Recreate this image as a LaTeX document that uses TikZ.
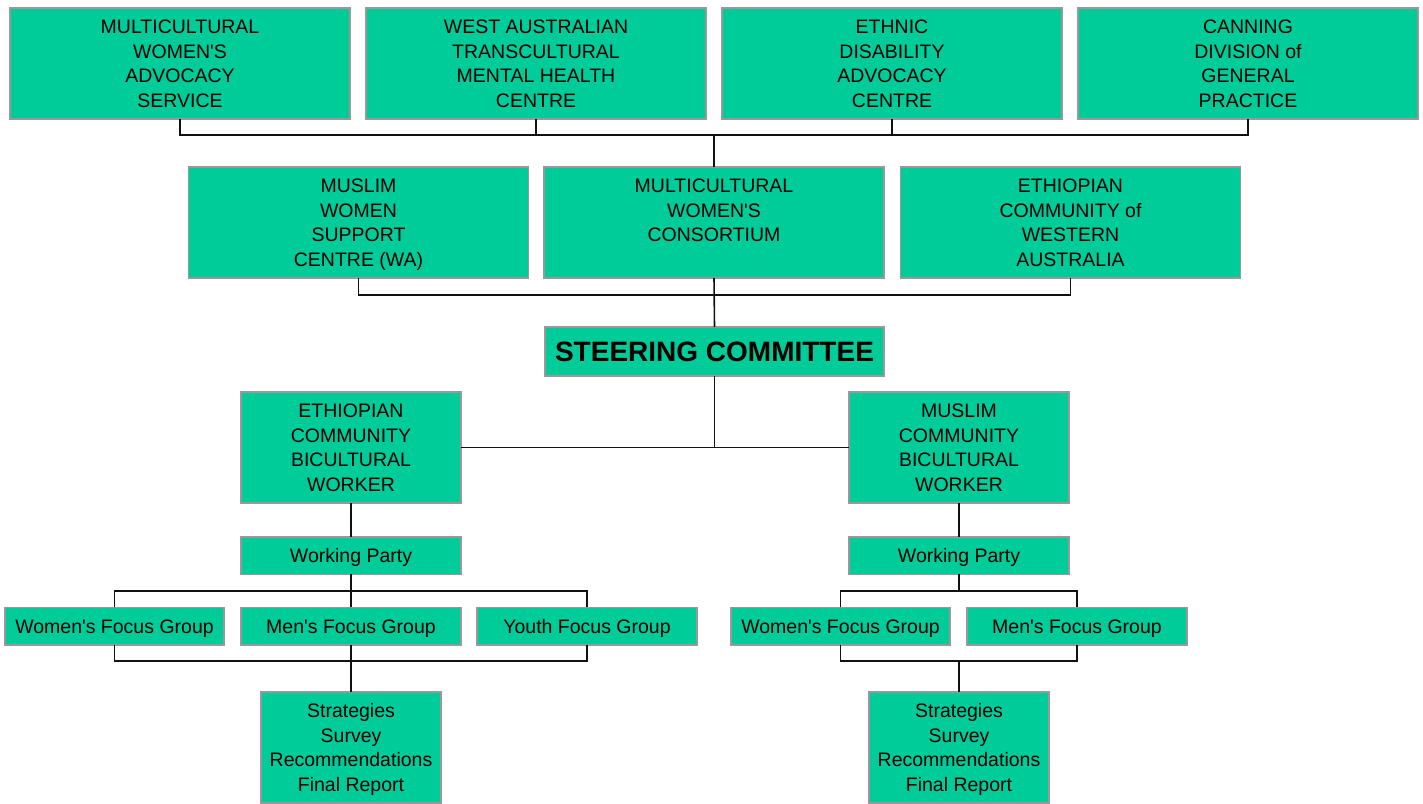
\documentclass[tikz,border=0pt]{standalone}
\usepackage{fontspec}
\setmainfont{Liberation Sans}[Ligatures=TeXOff]
\definecolor{boxfill}{HTML}{00CC99}
\definecolor{boxline}{HTML}{999999}
\definecolor{conn}{HTML}{111111}
\begin{document}
\begin{tikzpicture}[x=1pt,y=-1pt,
  box/.style={draw=boxline, fill=boxfill, line width=1.5pt, inner sep=0pt, outer sep=0pt,
    align=center, font=\fontsize{19.5}{24.5}\selectfont, text=black, text depth=0pt},
  big/.style={box, minimum width=340pt, minimum height=111pt},
  mid/.style={box, minimum width=220pt, minimum height=111pt},
  small/.style={box, minimum width=220pt, minimum height=37.5pt, text height=14pt},
  strat/.style={box, minimum width=180pt, minimum height=111pt},
  conn/.style={draw=conn, line width=1.6pt}]
\useasboundingbox (0,0) rectangle (1423,803);
% top row
\node[big] (t1) at (180,63.5) {MULTICULTURAL\\WOMEN'S\\ADVOCACY\\SERVICE};
\node[big] (t2) at (536,63.5) {WEST AUSTRALIAN\\TRANSCULTURAL\\MENTAL HEALTH\\CENTRE};
\node[big] (t3) at (892,63.5) {ETHNIC\\DISABILITY\\ADVOCACY\\CENTRE};
\node[big] (t4) at (1248,63.5) {CANNING\\DIVISION of\\GENERAL\\PRACTICE};
% middle row
\node[big] (m1) at (358.5,222.5) {MUSLIM\\WOMEN\\SUPPORT\\CENTRE (WA)};
\node[big] (m2) at (714,222.5) {MULTICULTURAL\\WOMEN'S\\CONSORTIUM\\\phantom{X}};
\node[big] (m3) at (1070.5,222.5) {ETHIOPIAN\\COMMUNITY of\\WESTERN\\AUSTRALIA};
% steering
\node[box, minimum width=339pt, minimum height=49pt, text height=20pt, font=\fontsize{28}{32}\selectfont\bfseries] (sc) at (714.5,351.5) {STEERING COMMITTEE};
% bicultural workers
\node[mid] (bwL) at (351,447.5) {ETHIOPIAN\\COMMUNITY\\BICULTURAL\\WORKER};
\node[mid] (bwR) at (959,447.5) {MUSLIM\\COMMUNITY\\BICULTURAL\\WORKER};
% working parties
\node[small] (wpL) at (351,555.5) {Working Party};
\node[small] (wpR) at (959,555.5) {Working Party};
% focus groups
\node[small, minimum width=219pt] (fW) at (114.5,626) {Women's Focus Group};
\node[small] (fM) at (351,626) {Men's Focus Group};
\node[small] (fY) at (587,626) {Youth Focus Group};
\node[small, minimum width=219pt] (fW2) at (840.5,626) {Women's Focus Group};
\node[small] (fM2) at (1077,626) {Men's Focus Group};
% strategies
\node[strat] (stL) at (351,747.5) {Strategies\\Survey\\Recommendations\\Final Report};
\node[strat] (stR) at (959,747.5) {Strategies\\Survey\\Recommendations\\Final Report};
% connectors
\coordinate (b1) at (714,135);
\coordinate (b2) at (714,295);
\coordinate (b3) at (351,591);
\coordinate (b4) at (351,661);
\coordinate (b5) at (959,591);
\coordinate (b6) at (959,661);
\draw[conn] (t1.south) |- (b1);
\draw[conn] (t2.south) |- (b1);
\draw[conn] (t3.south) |- (b1);
\draw[conn] (t4.south) |- (b1);
\draw[conn] (b1) -- (m2.north);
\draw[conn] (m1.south) |- (b2);
\draw[conn] (m3.south) |- (b2);
\draw[conn] (m2.south) -- (sc.north);
\draw[conn] (sc.south) |- (bwL.east);
\draw[conn] (sc.south) |- (bwR.west);
\draw[conn] (bwL.south) -- (wpL.north);
\draw[conn] (bwR.south) -- (wpR.north);
\draw[conn] (wpL.south) -- (fM.north);
\draw[conn] (fW.north) |- (b3);
\draw[conn] (fY.north) |- (b3);
\draw[conn] (fW.south) |- (b4);
\draw[conn] (fY.south) |- (b4);
\draw[conn] (fM.south) -- (stL.north);
\draw[conn] (wpR.south) -- (b5);
\draw[conn] (fW2.north) |- (b5);
\draw[conn] (fM2.north) |- (b5);
\draw[conn] (fW2.south) |- (b6);
\draw[conn] (fM2.south) |- (b6);
\draw[conn] (b6) -- (stR.north);
\end{tikzpicture}
\end{document}
